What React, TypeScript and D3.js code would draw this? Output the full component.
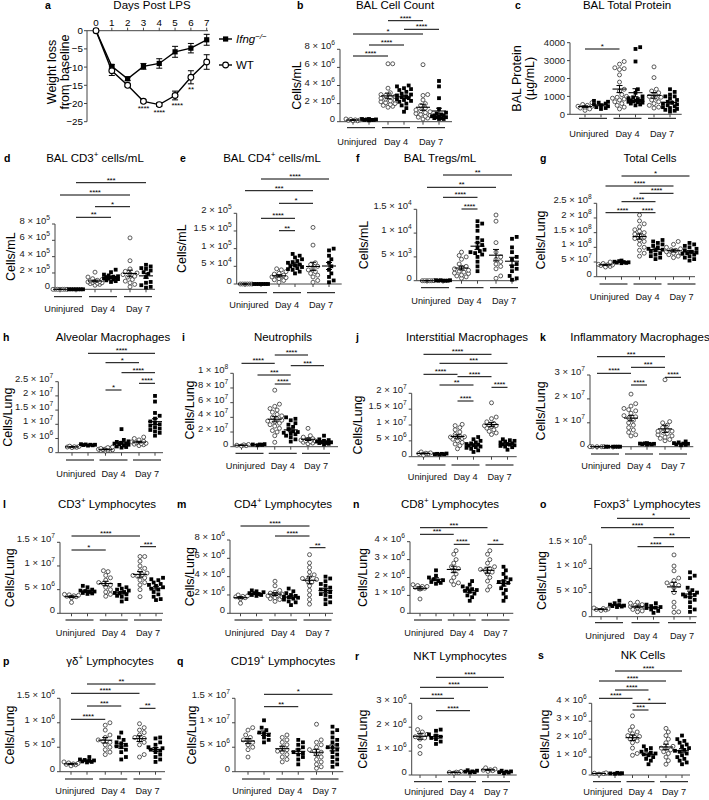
import React from 'react';
import * as d3 from 'd3';

const FONT = '"Liberation Sans", Arial, sans-serif';

// ---------- panel a: weight loss ----------
const days = [0, 1, 2, 3, 4, 5, 6, 7];
const koWeight = [0, -9.8, -13.2, -9.8, -9.0, -5.8, -4.8, -2.5];
const koWeightSem = [0, 0.5, 0.5, 0.8, 1.3, 1.5, 1.3, 1.5];
const wtWeight = [0, -11.0, -15.0, -19.4, -20.3, -17.8, -12.8, -8.6];
const wtWeightSem = [0, 1.3, 0.4, 0.4, 0.5, 1.2, 1.8, 2.0];
const weightStars: [number, string, number][] = [
  [3, '****', -20.7], [4, '****', -21.8], [5, '****', -19.9], [6, '**', -15.5],
];

// ---------- dot plot panels (b-s) ----------
// columns: Uninjured WT, Uninjured Ifng-/-, Day 4 WT, Day 4 Ifng-/-, Day 7 WT, Day 7 Ifng-/-
const groups = ['Uninjured', 'Day 4', 'Day 7'];

// b, ×10^6 cells/mL
const balCellCount = [
  [0.1, 0.2, 0.15, 0.3, 0.2, 0.1, 0.25],
  [0.2, 0.25, 0.3, 0.15, 0.2, 0.3, 0.25, 0.2],
  [6.4, 6.4, 3.7, 3.2, 3.0, 2.8, 2.6, 2.5, 2.4, 2.3, 2.2, 2.1, 2.0, 1.9, 1.8, 1.7, 1.6, 2.7, 2.9],
  [4.0, 3.9, 3.7, 3.5, 3.3, 3.1, 3.0, 2.9, 2.8, 2.7, 2.6, 2.5, 2.4, 2.2, 2.0, 1.8, 1.5, 1.1, 2.3, 3.6],
  [6.3, 3.0, 2.9, 2.0, 1.8, 1.5, 1.3, 1.2, 1.0, 0.9, 0.8, 0.7, 0.6, 0.5, 0.4, 0.3, 2.4, 1.1],
  [4.5, 3.9, 2.6, 1.4, 1.0, 0.9, 0.8, 0.7, 0.6, 0.5, 0.5, 0.4, 0.4, 0.3, 0.3, 0.6, 0.7],
];
const balCellCountSig: [number, number, string][] = [[0, 2, '****'], [1, 3, '****'], [0, 4, '*'], [3, 5, '****'], [2, 4, '****']];

// c, µg/mL
const balProtein = [
  [650, 550, 500, 450, 400, 350, 300, 450, 220],
  [750, 650, 600, 550, 500, 450, 400, 350, 300, 700],
  [2950, 2800, 2600, 2550, 2500, 2200, 1800, 1400, 1300, 1100, 1000, 950, 900, 850, 800, 700, 600, 500, 400, 300],
  [3750, 3650, 2950, 1400, 1200, 1000, 950, 900, 850, 800, 780, 760, 750, 720, 700, 680, 650, 600, 550, 500],
  [2650, 2050, 1400, 1200, 1100, 1000, 950, 900, 800, 700, 600, 500, 400, 350, 1300],
  [1400, 1250, 1100, 1000, 900, 800, 700, 650, 600, 550, 500, 450, 400, 350, 300, 250, 200, 150, 1000],
];
const balProteinSig: [number, number, string][] = [[0, 2, '*']];

// d, ×10^5 cells/mL
const balCd3 = [
  [0, 0, 0, 0, 0, 0, 0],
  [0, 0, 0, 0, 0, 0, 0],
  [2.1, 1.5, 1.3, 1.2, 1.1, 1.0, 0.95, 0.9, 0.85, 0.8, 0.75, 0.7, 0.6, 0.5, 1.05],
  [2.4, 2.1, 1.8, 1.7, 1.6, 1.5, 1.45, 1.4, 1.35, 1.3, 1.25, 1.2, 1.1, 1.0, 0.9, 1.55],
  [6.3, 3.5, 2.5, 2.2, 2.0, 1.9, 1.8, 1.6, 1.5, 1.2, 0.8, 0.6, 0.3, 1.0],
  [3.0, 2.8, 2.6, 2.5, 2.3, 2.1, 1.9, 1.5, 0.8, 0.5, 0.3, 0.2, 0.9],
];
const balCd3Sig: [number, number, string][] = [[1, 5, '***'], [0, 4, '****'], [2, 4, '*'], [1, 3, '**']];

// e, ×10^4 cells/mL
const balCd4 = [
  [0, 0, 0, 0, 0, 0],
  [0, 0, 0, 0, 0, 0, 0],
  [4.3, 4.0, 3.5, 3.0, 2.8, 2.5, 2.3, 2.0, 1.8, 1.5, 1.2, 1.0, 0.5, 2.2],
  [8.5, 8.0, 7.5, 7.0, 6.5, 6.0, 5.5, 5.0, 4.8, 4.5, 4.2, 4.0, 3.5, 3.0, 5.2, 6.2],
  [16, 11, 6.0, 5.0, 4.5, 4.0, 3.5, 3.0, 2.5, 2.0, 1.0, 0.5, 5.5],
  [10, 9.5, 8.0, 7.0, 6.0, 5.0, 4.0, 3.0, 1.0, 0.5, 2.0],
];
const balCd4Sig: [number, number, string][] = [[1, 5, '****'], [0, 4, '***'], [2, 4, '*'], [1, 3, '****'], [2, 3, '**']];

// f, ×10^3 cells/mL
const balTregs = [
  [0, 0, 0, 0, 0, 0],
  [0, 0.1, 0, 0.1, 0, 0.1, 0],
  [6.0, 5.3, 5.0, 4.5, 3.5, 3.0, 2.5, 2.2, 2.0, 1.8, 1.5, 1.2, 1.0, 0.8, 0.5, 2.8, 1.6],
  [12.5, 12, 11.5, 10.5, 9.0, 8.0, 7.5, 7.0, 6.5, 6.0, 5.5, 5.0, 4.0, 3.0, 2.0, 6.2, 5.8, 8.5],
  [13.8, 12.5, 8.0, 6.0, 5.0, 4.5, 4.0, 3.5, 2.5, 1.0, 0.5, 3.0],
  [9.2, 8.8, 7.0, 6.0, 5.0, 4.5, 3.5, 2.5, 2.0, 1.0, 0.5, 0.2, 3.0],
];
const balTregsSig: [number, number, string][] = [[1, 5, '**'], [0, 4, '**'], [1, 3, '****'], [2, 3, '****']];

// g, ×10^7 cells/lung
const totalCells = [
  [5.0, 4.5, 4.2, 4.0, 3.8, 3.5, 3.3, 4.1],
  [5.5, 5.3, 5.0, 4.9, 4.8, 4.7, 5.1, 4.6],
  [21, 19, 18, 17, 16, 15.5, 15, 14, 13.5, 13, 12, 11, 10, 9, 8, 7, 14.5, 12.5],
  [12.5, 12, 11.5, 11, 10, 9.5, 9, 8.5, 8, 7.5, 7, 6.5, 6, 9.2, 10.5],
  [12, 11, 10, 9.5, 9, 8.5, 8.2, 8, 7.5, 7, 6.5, 9.2],
  [11.5, 11, 10.5, 10, 9.5, 9, 8.5, 8, 7.5, 7, 6.5, 6, 5.5, 8.2, 7.8],
];
const totalCellsSig: [number, number, string][] = [[1, 5, '*'], [0, 4, '****'], [2, 4, '****'], [1, 3, '****'], [0, 2, '****'], [2, 3, '****']];

// h, ×10^6
const alveolarMac = [
  [2.3, 2.2, 2.0, 1.9, 1.8, 2.1],
  [3.0, 2.9, 2.8, 2.7, 2.6, 2.5, 2.8],
  [2.0, 1.8, 1.5, 1.3, 1.2, 1.0, 0.9, 0.8, 0.7, 0.6, 1.1, 1.4],
  [8.3, 4.5, 4.0, 3.8, 3.5, 3.2, 3.0, 2.8, 2.5, 2.2, 2.0, 1.8, 3.3],
  [5.5, 5.0, 4.5, 4.0, 3.8, 3.5, 3.2, 3.0, 2.8, 2.5, 3.3],
  [20, 18, 14, 13, 12, 11, 10, 9.5, 9, 8.5, 8, 7.5, 7, 6, 10.5],
];
const alveolarMacSig: [number, number, string][] = [[1, 5, '****'], [2, 4, '*'], [3, 5, '****'], [4, 5, '****'], [2, 3, '*']];

// i, ×10^7
const neutrophils = [
  [0.3, 0.2, 0.15, 0.25, 0.1],
  [0.3, 0.25, 0.2, 0.35, 0.3],
  [7.7, 5.8, 5.5, 5.2, 5.0, 4.7, 4.4, 4.2, 4.0, 3.8, 3.6, 3.4, 3.2, 3.0, 2.8, 2.5, 2.2, 2.0, 1.5, 0.6, 3.5],
  [4.0, 3.8, 3.6, 3.2, 3.0, 2.7, 2.4, 2.1, 1.9, 1.7, 1.5, 1.3, 1.0, 0.7, 2.0, 1.8],
  [2.5, 1.5, 1.3, 1.1, 1.0, 0.9, 0.8, 0.7, 0.6, 0.5, 0.4, 0.8],
  [1.5, 1.0, 0.9, 0.8, 0.7, 0.6, 0.5, 0.4, 0.3, 0.5, 0.6],
];
const neutrophilsSig: [number, number, string][] = [[2, 4, '****'], [0, 2, '****'], [3, 5, '***'], [1, 3, '***'], [2, 3, '****']];

// j, ×10^6
const interstitialMac = [
  [1.5, 1.2, 1.0, 0.9, 0.5, 1.1],
  [1.0, 0.9, 0.8, 0.7, 0.9, 0.8],
  [10.2, 9.8, 9.2, 8.5, 7.8, 7.0, 6.5, 6.2, 6.0, 5.8, 5.5, 5.0, 4.5, 4.0, 3.5, 2.5, 6.3],
  [6.2, 5.5, 5.0, 4.5, 4.2, 4.0, 3.8, 3.5, 3.2, 3.0, 2.8, 2.5, 2.0, 1.5, 3.6],
  [17, 12.5, 12, 11, 10.5, 10, 9.8, 9.5, 9, 8.5, 8, 7.5, 7, 9.8],
  [5.5, 5.2, 5.0, 4.8, 4.5, 4.2, 4.0, 3.8, 3.6, 3.4, 3.2, 3.0, 2.2, 3.9],
];
const interstitialMacSig: [number, number, string][] = [[0, 4, '****'], [1, 5, '***'], [0, 2, '****'], [2, 4, '****'], [1, 3, '**'], [4, 5, '****'], [2, 3, '****']];

// k, ×10^6
const inflammatoryMac = [
  [0, 0, 0, 0, 0],
  [0, 0, 0, 0, 0, 0],
  [22, 18, 17, 16, 15.5, 15, 14, 13, 12, 11, 10, 9, 8, 7, 6, 5, 4.5, 12.5],
  [1.5, 1.3, 1.2, 1.1, 1.0, 0.9, 1.2, 1.4],
  [28, 10.5, 10, 9, 8, 7, 6.5, 6, 5.5, 5, 4.5, 4, 3.5, 3, 2.5, 6.5],
  [2.2, 1.8, 1.5, 1.2, 1.0, 0.8, 0.6, 1.3],
];
const inflammatoryMacSig: [number, number, string][] = [[0, 4, '***'], [2, 4, '***'], [0, 2, '****'], [4, 5, '****'], [2, 3, '****']];

// l, ×10^6
const cd3Lymph = [
  [4.0, 3.8, 3.7, 3.6, 3.5, 3.3, 2.3, 3.9],
  [5.8, 5.5, 5.0, 4.8, 4.6, 4.5, 4.3, 4.2, 4.1, 4.7],
  [9.0, 8.8, 8.0, 7.5, 7.0, 6.5, 6.0, 5.5, 5.0, 4.5, 4.0, 3.6, 6.3],
  [6.0, 5.5, 5.2, 5.0, 4.8, 4.5, 4.3, 4.0, 3.7, 3.5, 3.0, 2.5, 4.2],
  [12, 12, 11, 10, 9.5, 9, 8.5, 8, 7.8, 7.5, 7, 6.5, 6, 5, 3.5, 8.2],
  [7.5, 7.2, 7.0, 6.5, 6.0, 5.8, 5.5, 5.2, 5.0, 4.5, 4.0, 3.5, 3.0, 2.8, 6.2],
];
const cd3LymphSig: [number, number, string][] = [[0, 4, '****'], [4, 5, '***'], [0, 2, '*']];

// m, ×10^6
const cd4Lymph = [
  [2.0, 1.9, 1.8, 1.7, 1.6, 1.1, 1.85],
  [2.5, 2.4, 2.3, 2.2, 2.1, 2.0, 1.9, 2.2, 2.0],
  [3.5, 3.0, 2.5, 2.3, 2.2, 2.0, 1.9, 1.8, 1.7, 1.6, 1.5, 1.3, 2.1, 1.95],
  [2.7, 2.4, 2.2, 2.0, 1.9, 1.8, 1.7, 1.6, 1.5, 1.3, 1.2, 0.9, 1.75],
  [6.4, 5.5, 5.0, 4.5, 4.2, 4.0, 3.8, 3.6, 3.4, 3.0, 2.5, 2.0, 1.5, 1.0, 3.7],
  [4.0, 3.8, 3.5, 3.2, 3.0, 2.8, 2.5, 2.3, 2.1, 2.0, 1.8, 1.5, 1.2, 1.0, 2.6],
];
const cd4LymphSig: [number, number, string][] = [[0, 4, '****'], [2, 4, '****'], [4, 5, '**']];

// n, ×10^6
const cd8Lymph = [
  [1.6, 1.55, 1.5, 1.45, 1.4, 1.35, 0.8, 1.5],
  [2.4, 2.1, 2.0, 1.9, 1.8, 1.75, 1.7, 1.65, 1.85],
  [3.5, 3.3, 3.0, 2.8, 2.6, 2.4, 2.2, 2.0, 1.8, 1.7, 1.6, 2.5],
  [1.8, 1.6, 1.5, 1.4, 1.3, 1.25, 1.2, 1.1, 1.0, 0.9, 0.7, 1.35],
  [3.5, 3.3, 3.0, 2.8, 2.6, 2.5, 2.4, 2.3, 2.2, 2.0, 1.8, 1.5, 1.3, 2.45],
  [2.6, 2.4, 2.2, 2.0, 1.9, 1.8, 1.7, 1.6, 1.4, 1.3, 1.1, 0.9, 0.7, 1.75],
];
const cd8LymphSig: [number, number, string][] = [[0, 4, '***'], [0, 2, '***'], [2, 3, '****'], [4, 5, '**']];

// o, ×10^5
const foxp3Lymph = [
  [1.8, 1.6, 1.5, 1.4, 1.3, 1.7],
  [3.3, 2.8, 2.5, 2.3, 2.2, 2.1, 2.0, 2.4],
  [3.0, 2.8, 2.5, 2.2, 2.0, 1.8, 1.5, 1.2, 1.0, 2.1, 2.4],
  [2.8, 2.5, 2.2, 2.0, 1.8, 1.5, 1.2, 0.8, 1.9],
  [12.8, 10.5, 9.5, 8.0, 7.5, 7.0, 6.5, 6.0, 5.0, 3.0, 2.0, 1.0, 0.9, 6.8],
  [9.2, 8.5, 8.0, 6.0, 5.5, 5.0, 4.8, 4.5, 4.2, 4.0, 3.5, 3.0, 2.0, 1.5, 1.0, 4.6],
];
const foxp3LymphSig: [number, number, string][] = [[1, 5, '*'], [0, 4, '****'], [3, 5, '**'], [2, 4, '****']];

// p, ×10^5
const gdLymph = [
  [2.0, 1.8, 1.6, 1.5, 1.4, 1.2, 1.7],
  [3.0, 2.5, 2.3, 2.2, 2.1, 2.0, 1.9, 2.4],
  [10, 9.5, 8.5, 7.5, 7.0, 6.5, 6.0, 5.5, 5.0, 4.5, 4.0, 3.5, 6.2],
  [8.0, 7.0, 6.5, 6.0, 5.5, 5.2, 5.0, 4.5, 4.0, 3.0, 2.5, 5.8],
  [9.8, 9.0, 8.5, 8.0, 7.5, 7.0, 6.5, 6.0, 5.5, 3.5, 3.0, 6.8],
  [7.0, 6.8, 6.0, 5.5, 5.0, 4.8, 4.5, 4.3, 4.0, 3.5, 3.0, 2.5, 2.0, 4.6],
];
const gdLymphSig: [number, number, string][] = [[1, 5, '**'], [0, 4, '****'], [1, 3, '***'], [4, 5, '**'], [0, 2, '****']];

// q, ×10^6
const cd19Lymph = [
  [9.0, 8.5, 7.5, 7.0, 6.5, 6.0, 5.5, 5.0, 4.5, 3.0, 6.3],
  [10.5, 9.0, 8.5, 8.0, 7.5, 7.0, 6.5, 6.0, 7.8],
  [7.5, 7.0, 6.5, 6.0, 5.5, 5.0, 4.5, 4.0, 3.5, 3.0, 2.5, 2.0, 4.2],
  [6.5, 6.0, 5.5, 5.0, 4.5, 4.0, 3.5, 3.0, 2.5, 1.5, 3.8],
  [9.7, 6.5, 6.0, 5.5, 5.0, 4.5, 4.0, 3.5, 3.0, 2.5, 2.0, 1.5, 0.7, 1.0, 4.2],
  [9.2, 8.5, 8.0, 7.0, 6.5, 6.0, 5.5, 5.0, 4.5, 4.0, 3.5, 3.0, 2.5, 2.0, 1.5, 1.0, 4.9],
];
const cd19LymphSig: [number, number, string][] = [[1, 5, '*'], [1, 3, '**']];

// r, ×10^6
const nktLymph = [
  [2.4, 1.9, 1.8, 1.7, 1.65, 1.6, 1.55, 1.5, 0.9, 1.2],
  [1.9, 1.85, 1.7, 1.65, 1.6, 1.55, 1.5, 1.4, 1.3],
  [0.15, 0.12, 0.1, 0.08, 0.11],
  [0.2, 0.18, 0.15, 0.12, 0.1, 0.14],
  [0.3, 0.25, 0.2, 0.18, 0.15, 0.22],
  [0.18, 0.15, 0.12, 0.1, 0.08, 0.14],
];
const nktLymphSig: [number, number, string][] = [[1, 5, '****'], [0, 4, '****'], [0, 2, '****'], [1, 3, '****']];

// s, ×10^6
const nkCells = [
  [0.1, 0.08, 0.05, 0.12],
  [0.1, 0.08, 0.07, 0.12, 0.09],
  [3.3, 2.7, 2.5, 2.4, 2.3, 2.2, 2.1, 2.0, 1.9, 1.8, 1.5, 1.2, 1.1, 2.15],
  [1.6, 1.5, 1.4, 1.3, 1.25, 1.2, 1.1, 1.0, 0.9, 0.8, 0.6, 1.15],
  [2.6, 2.4, 2.2, 2.0, 1.8, 1.6, 1.5, 1.4, 1.3, 1.2, 1.0, 0.8, 0.6, 1.5],
  [2.2, 2.0, 1.9, 1.8, 1.7, 1.6, 1.5, 1.4, 1.3, 1.2, 1.1, 1.0, 0.9, 0.8, 0.7, 0.6, 1.35],
];
const nkCellsSig: [number, number, string][] = [[1, 5, '****'], [0, 4, '****'], [1, 3, '****'], [0, 2, '****'], [2, 4, '*'], [2, 3, '***']];

// ---------- layout ----------
type Panel = {
  id: string; title: string; letterX: number; titleX: number; rowY: number;
  ylab: string[]; ylabX: number; ax: number; yTop: number; yBot: number;
  g1: number; g3: number; xEnd: number; ulY: number; labY: number;
  ticks: number[]; unit: number; plain?: boolean;
  data: number[][]; sig: [number, number, string][]; sigY: number[];
};

const L = (ylab = 'Cells/Lung') => [ylab];

const panels: Panel[] = [
  { id: 'b', title: 'BAL Cell Count', letterX: 297, titleX: 395, rowY: 9, ylab: L('Cells/mL'), ylabX: 297, ax: 340, yTop: 49.3, yBot: 121.7, g1: 361, g3: 431, xEnd: 452, ulY: 127.7, labY: 145, ticks: [0, 2, 4, 6, 8], unit: 1e6, data: balCellCount, sig: balCellCountSig, sigY: [56, 45, 34, 29.3, 20.7] },
  { id: 'c', title: 'BAL Total Protein', letterX: 515, titleX: 627, rowY: 9, ylab: ['BAL  Protein', '(µg/mL)'], ylabX: 517, ax: 570, yTop: 42.7, yBot: 114.3, g1: 593, g3: 662, xEnd: 681.7, ulY: 118.3, labY: 137, ticks: [0, 1000, 2000, 3000, 4000], unit: 1, plain: true, data: balProtein, sig: balProteinSig, sigY: [49] },
  { id: 'd', title: 'BAL CD3{+} cells/mL', letterX: 4, titleX: 95, rowY: 162, ylab: L('Cells/mL'), ylabX: 11, ax: 55, yTop: 224, yBot: 289.3, g1: 68, g3: 138, xEnd: 155, ulY: 296.7, labY: 311.5, ticks: [0, 2, 4, 6, 8], unit: 1e5, data: balCd3, sig: balCd3Sig, sigY: [182.7, 195, 206.7, 217.3] },
  { id: 'e', title: 'BAL CD4{+} cells/mL', letterX: 180, titleX: 272, rowY: 162, ylab: L('Cells/mL'), ylabX: 182, ax: 236.7, yTop: 213.3, yBot: 284, g1: 253, g3: 321, xEnd: 341.7, ulY: 292.7, labY: 307.5, ticks: [0, 5, 10, 15, 20], unit: 1e4, data: balCd4, sig: balCd4Sig, sigY: [179, 190.7, 203.3, 218.3, 230.7] },
  { id: 'f', title: 'BAL Tregs/mL', letterX: 356, titleX: 440, rowY: 162, ylab: L('Cells/mL'), ylabX: 364, ax: 416.7, yTop: 209.3, yBot: 280.7, g1: 435, g3: 504, xEnd: 516.7, ulY: 287.7, labY: 303.5, ticks: [0, 5, 10, 15], unit: 1e3, data: balTregs, sig: balTregsSig, sigY: [175, 187.3, 197.3, 209] },
  { id: 'g', title: 'Total Cells', letterX: 540, titleX: 650, rowY: 162, ylab: L(), ylabX: 541, ax: 596.7, yTop: 203.3, yBot: 276.7, g1: 613.5, g3: 681.5, xEnd: 695, ulY: 284, labY: 299.5, ticks: [0, 5, 10, 15, 20, 25], unit: 1e7, data: totalCells, sig: totalCellsSig, sigY: [176, 186, 193.3, 201.7, 212.7, 212.7] },
  { id: 'h', title: 'Alveolar Macrophages', letterX: 3, titleX: 113, rowY: 341, ylab: L(), ylabX: 8, ax: 58.3, yTop: 381.7, yBot: 452.7, g1: 80, g3: 147, xEnd: 163, ulY: 460, labY: 477, ticks: [0, 5, 10, 15, 20, 25], unit: 1e6, data: alveolarMac, sig: alveolarMacSig, sigY: [353.3, 362.7, 372.7, 383.3, 390] },
  { id: 'i', title: 'Neutrophils', letterX: 182, titleX: 283, rowY: 341, ylab: L(), ylabX: 190, ax: 233.3, yTop: 373.3, yBot: 446.7, g1: 249.5, g3: 316, xEnd: 338, ulY: 453.3, labY: 468.5, ticks: [0, 2, 4, 6, 8, 10], unit: 1e7, data: neutrophils, sig: neutrophilsSig, sigY: [355, 363.3, 365.7, 375, 384] },
  { id: 'j', title: 'Interstitial Macrophages', letterX: 356, titleX: 467, rowY: 341, ylab: L(), ylabX: 358, ax: 411.7, yTop: 393.3, yBot: 456.7, g1: 431.5, g3: 499.5, xEnd: 516.7, ulY: 465, labY: 480, ticks: [0, 5, 10, 15, 20], unit: 1e6, data: interstitialMac, sig: interstitialMacSig, sigY: [354.3, 363.3, 374.3, 376.7, 385, 387.3, 401] },
  { id: 'k', title: 'Inflammatory Macrophages', letterX: 540, titleX: 640, rowY: 341, ylab: L(), ylabX: 541, ax: 590, yTop: 375, yBot: 446.7, g1: 605, g3: 673, xEnd: 693.3, ulY: 454, labY: 468.5, ticks: [0, 10, 20, 30], unit: 1e6, data: inflammatoryMac, sig: inflammatoryMacSig, sigY: [356.7, 367.3, 373.3, 377.3, 385] },
  { id: 'l', title: 'CD3{+} Lymphocytes', letterX: 3, titleX: 107, rowY: 508, ylab: L(), ylabX: 10, ax: 60, yTop: 542.3, yBot: 613.3, g1: 79.5, g3: 148, xEnd: 163, ulY: 620, labY: 636, ticks: [0, 5, 10, 15], unit: 1e6, data: cd3Lymph, sig: cd3LymphSig, sigY: [536, 546.7, 550] },
  { id: 'm', title: 'CD4{+} Lymphocytes', letterX: 177, titleX: 283, rowY: 508, ylab: L(), ylabX: 190, ax: 230, yTop: 540, yBot: 613.3, g1: 248.5, g3: 317.5, xEnd: 333, ulY: 620, labY: 636, ticks: [0, 2, 4, 6, 8], unit: 1e6, data: cd4Lymph, sig: cd4LymphSig, sigY: [526, 536, 547.7] },
  { id: 'n', title: 'CD8{+} Lymphocytes', letterX: 353, titleX: 450, rowY: 508, ylab: L(), ylabX: 363, ax: 410, yTop: 541.7, yBot: 613.3, g1: 428, g3: 495.5, xEnd: 513.3, ulY: 620, labY: 636, ticks: [0, 1, 2, 3, 4], unit: 1e6, data: cd8Lymph, sig: cd8LymphSig, sigY: [527.7, 534.3, 544.3, 544.3] },
  { id: 'o', title: 'Foxp3{+} Lymphocytes', letterX: 540, titleX: 647, rowY: 508, ylab: L(), ylabX: 542, ax: 591.7, yTop: 544.3, yBot: 616.7, g1: 609, g3: 682, xEnd: 696.7, ulY: 622.7, labY: 638.5, ticks: [0, 5, 10, 15], unit: 1e5, data: foxp3Lymph, sig: foxp3LymphSig, sigY: [518.3, 527.7, 537.7, 546.7] },
  { id: 'p', title: 'γδ{+} Lymphocytes', letterX: 3, titleX: 110, rowY: 665, ylab: L(), ylabX: 10, ax: 60, yTop: 698.3, yBot: 771.7, g1: 79, g3: 147.5, xEnd: 165, ulY: 779, labY: 794, ticks: [0, 5, 10, 15], unit: 1e5, data: gdLymph, sig: gdLymphSig, sigY: [684, 693.3, 706, 708.3, 719.3] },
  { id: 'q', title: 'CD19{+} Lymphocytes', letterX: 177, titleX: 283, rowY: 665, ylab: L(), ylabX: 192, ax: 235, yTop: 698.3, yBot: 771.7, g1: 256, g3: 324.5, xEnd: 343.3, ulY: 779, labY: 794, ticks: [0, 5, 10, 15], unit: 1e6, data: cd19Lymph, sig: cd19LymphSig, sigY: [694.3, 706.7] },
  { id: 'r', title: 'NKT Lymphocytes', letterX: 355, titleX: 460, rowY: 660, ylab: L(), ylabX: 363, ax: 411.7, yTop: 703.3, yBot: 775, g1: 428, g3: 496, xEnd: 516.7, ulY: 781.7, labY: 795, ticks: [0, 1, 2, 3], unit: 1e6, data: nktLymph, sig: nktLymphSig, sigY: [677.3, 687.3, 698.3, 710.7] },
  { id: 's', title: 'NK Cells', letterX: 538, titleX: 643, rowY: 659, ylab: L(), ylabX: 545, ax: 591.7, yTop: 703.3, yBot: 775, g1: 607, g3: 674, xEnd: 690, ulY: 781.7, labY: 795, ticks: [0, 1, 2, 3, 4], unit: 1e6, data: nkCells, sig: nkCellsSig, sigY: [671, 681, 690, 698.3, 703.3, 710] },
];

// text with {superscript} parts
function rich(s: string, size: number) {
  const parts = s.split(/(\{[^}]*\})/).filter(Boolean);
  let raised = false;
  return parts.map((p, i) => {
    if (p.startsWith('{')) {
      raised = true;
      return <tspan key={i} dy={-size * 0.42} fontSize={size * 0.7}>{p.slice(1, -1)}</tspan>;
    }
    const dy = raised ? size * 0.42 : 0;
    raised = false;
    return <tspan key={i} dy={dy}>{p}</tspan>;
  });
}

function sciLabel(v: number) {
  if (v === 0) return '0';
  const e = Math.floor(Math.log10(v) + 1e-9);
  const m = +(v / Math.pow(10, e)).toFixed(2);
  return `${m} × 10{${e}}`;
}

// deterministic beeswarm placement within a column
function swarm(vals: number[], y: (v: number) => number, cx: number, gap: number) {
  const placed: { x: number; y: number }[] = [];
  const sorted = [...vals].sort((a, b) => a - b);
  const step = gap * 0.6;
  const offs = [0, 1, -1, 2, -2, 3, -3];
  for (const v of sorted) {
    const py = y(v);
    let best = { x: cx, y: py }, bestD = -1;
    for (const o of offs) {
      const px = cx + o * step;
      const d = placed.length ? Math.min(...placed.map(p => Math.hypot(p.x - px, p.y - py))) : Infinity;
      if (d >= gap) { best = { x: px, y: py }; break; }
      if (d > bestD) { bestD = d; best = { x: px, y: py }; }
    }
    placed.push(best);
  }
  return placed;
}

function DotPanel({ p }: { p: Panel }) {
  const y = d3.scaleLinear().domain([0, d3.max(p.ticks) as number]).range([p.yBot, p.yTop]);
  const gx = d3.scalePoint<string>().domain(groups).range([p.g1, p.g3]);
  const colX = (i: number) => (gx(groups[Math.floor(i / 2)]) as number) + (i % 2 ? 8 : -8);
  const midY = (p.yTop + p.yBot) / 2;
  return (
    <g>
      <text x={p.letterX} y={p.rowY} fontSize={10.5} fontWeight="bold">{p.id}</text>
      <text x={p.titleX} y={p.rowY} fontSize={11.5} textAnchor="middle">{rich(p.title, 11.5)}</text>
      {p.ylab.map((t, i) => (
        <text key={i} transform={`translate(${p.ylabX + i * 13},${midY}) rotate(-90)`} textAnchor="middle" dy="0.35em" fontSize={12.5}>{t}</text>
      ))}
      {/* axes */}
      <line x1={p.ax} x2={p.ax} y1={p.yBot} y2={p.yTop} stroke="#444" />
      <line x1={p.ax} x2={p.xEnd} y1={p.yBot} y2={p.yBot} stroke="#444" />
      {p.ticks.map(t => (
        <g key={t}>
          <line x1={p.ax - 3} x2={p.ax} y1={y(t)} y2={y(t)} stroke="#444" />
          <text x={p.ax - 5} y={y(t)} dy="0.35em" textAnchor="end" fontSize={9.5} fill="#222">
            {p.plain ? String(t) : rich(sciLabel(t * p.unit), 9.5)}
          </text>
        </g>
      ))}
      {d3.range(6).map(i => (
        <line key={i} x1={colX(i)} x2={colX(i)} y1={p.yBot} y2={p.yBot + 3} stroke="#444" />
      ))}
      {groups.map((g, gi) => (
        <g key={g}>
          <line x1={(gx(g) as number) - 14} x2={(gx(g) as number) + 14} y1={p.ulY} y2={p.ulY} stroke="#000" />
          <text x={(gx(g) as number) - (gi === 0 ? 4 : 0)} y={p.labY} textAnchor="middle" fontSize={9.2} fill="#111">{g}</text>
        </g>
      ))}
      {/* points */}
      {p.data.map((vals, i) => {
        const pts = swarm(vals, y, colX(i), 3.9);
        const mean = d3.mean(vals) as number;
        const sem = (d3.deviation(vals) || 0) / Math.sqrt(vals.length);
        const cx = colX(i);
        return (
          <g key={i}>
            {pts.map((q, k) => i % 2
              ? <rect key={k} x={q.x - 1.9} y={q.y - 1.9} width={3.8} height={3.8} fill="#000" />
              : <circle key={k} cx={q.x} cy={q.y} r={2.0} fill="#fff" stroke="#333" strokeWidth={0.8} />)}
            <line x1={cx - 7} x2={cx + 7} y1={y(mean)} y2={y(mean)} stroke="#000" strokeWidth={1.1} />
            <line x1={cx} x2={cx} y1={y(mean - sem)} y2={y(mean + sem)} stroke="#000" strokeWidth={1} />
            <line x1={cx - 3} x2={cx + 3} y1={y(mean + sem)} y2={y(mean + sem)} stroke="#000" strokeWidth={1} />
            <line x1={cx - 3} x2={cx + 3} y1={y(mean - sem)} y2={y(mean - sem)} stroke="#000" strokeWidth={1} />
          </g>
        );
      })}
      {/* significance bars */}
      {p.sig.map(([a, b, lab], k) => (
        <g key={k}>
          <line x1={colX(a)} x2={colX(b)} y1={p.sigY[k]} y2={p.sigY[k]} stroke="#000" strokeWidth={1} />
          <text x={(colX(a) + colX(b)) / 2} y={p.sigY[k]} textAnchor="middle" fontSize={8} letterSpacing={-0.3}>{lab}</text>
        </g>
      ))}
    </g>
  );
}

function WeightPanel() {
  const x = d3.scaleLinear().domain([0, 7]).range([96, 206.7]);
  const y = d3.scaleLinear().domain([0, -25]).range([30.7, 121.7]);
  const line = d3.line<number>().x((_, i) => x(days[i])).y(v => y(v));
  const series = [
    { m: koWeight, e: koWeightSem, ko: true },
    { m: wtWeight, e: wtWeightSem, ko: false },
  ];
  return (
    <g>
      <text x={45} y={9} fontSize={10.5} fontWeight="bold">a</text>
      <text x={152} y={9} fontSize={11.5} textAnchor="middle">Days Post LPS</text>
      <line x1={87} x2={208} y1={y(0)} y2={y(0)} stroke="#444" />
      <line x1={87} x2={87} y1={y(0)} y2={y(-25)} stroke="#444" />
      {days.map(d => (
        <g key={d}>
          <line x1={x(d)} x2={x(d)} y1={y(0)} y2={y(0) - 3} stroke="#444" />
          <text x={x(d)} y={y(0) - 5} textAnchor="middle" fontSize={9.8}>{d}</text>
        </g>
      ))}
      {[0, -5, -10, -15, -20, -25].map(t => (
        <g key={t}>
          <line x1={84} x2={87} y1={y(t)} y2={y(t)} stroke="#444" />
          <text x={83} y={y(t)} dy="0.35em" textAnchor="end" fontSize={9.8}>{t === 0 ? '0' : `−${-t}`}</text>
        </g>
      ))}
      {['Weight loss', 'from baseline'].map((t, i) => (
        <text key={i} transform={`translate(${52 + i * 12.5},${72}) rotate(-90)`} textAnchor="middle" dy="0.35em" fontSize={12.5}>{t}</text>
      ))}
      {series.map((s, si) => (
        <g key={si}>
          <path d={line(s.m) as string} fill="none" stroke="#000" strokeWidth={1.4} />
          {s.m.map((v, i) => (
            <g key={i}>
              <line x1={x(days[i])} x2={x(days[i])} y1={y(v - s.e[i])} y2={y(v + s.e[i])} stroke="#000" />
              <line x1={x(days[i]) - 3} x2={x(days[i]) + 3} y1={y(v + s.e[i])} y2={y(v + s.e[i])} stroke="#000" />
              <line x1={x(days[i]) - 3} x2={x(days[i]) + 3} y1={y(v - s.e[i])} y2={y(v - s.e[i])} stroke="#000" />
              {s.ko
                ? <rect x={x(days[i]) - 2.6} y={y(v) - 2.6} width={5.2} height={5.2} fill="#000" />
                : <circle cx={x(days[i])} cy={y(v)} r={2.9} fill="#fff" stroke="#000" strokeWidth={1.1} />}
            </g>
          ))}
        </g>
      ))}
      {weightStars.map(([d, lab, v], i) => (
        <text key={i} x={x(d) + (d === 5 ? 2 : 0)} y={y(v) + 4.6} textAnchor="middle" fontSize={8} letterSpacing={-0.3}>{lab}</text>
      ))}
      {/* legend */}
      <line x1={219} x2={232} y1={39} y2={39} stroke="#000" strokeWidth={1.4} />
      <rect x={223} y={36.4} width={5.2} height={5.2} fill="#000" />
      <text x={236} y={39} dy="0.35em" fontSize={11.5}>
        <tspan fontStyle="italic">Ifng</tspan>
        <tspan dy={-4.5} fontSize={8} fontStyle="italic">−/−</tspan>
      </text>
      <line x1={219} x2={232} y1={65} y2={65} stroke="#000" strokeWidth={1.4} />
      <circle cx={225.6} cy={65} r={2.9} fill="#fff" stroke="#000" strokeWidth={1.1} />
      <text x={236} y={65} dy="0.35em" fontSize={11.5}>WT</text>
    </g>
  );
}

export default function App() {
  return (
    <svg width={709} height={800} viewBox="0 0 709 800"
      style={{ position: 'absolute', left: 0, top: 0, background: '#fff' }}
      fontFamily={FONT}>
      <rect width={709} height={800} fill="#fff" />
      <WeightPanel />
      {panels.map(p => <DotPanel key={p.id} p={p} />)}
    </svg>
  );
}
